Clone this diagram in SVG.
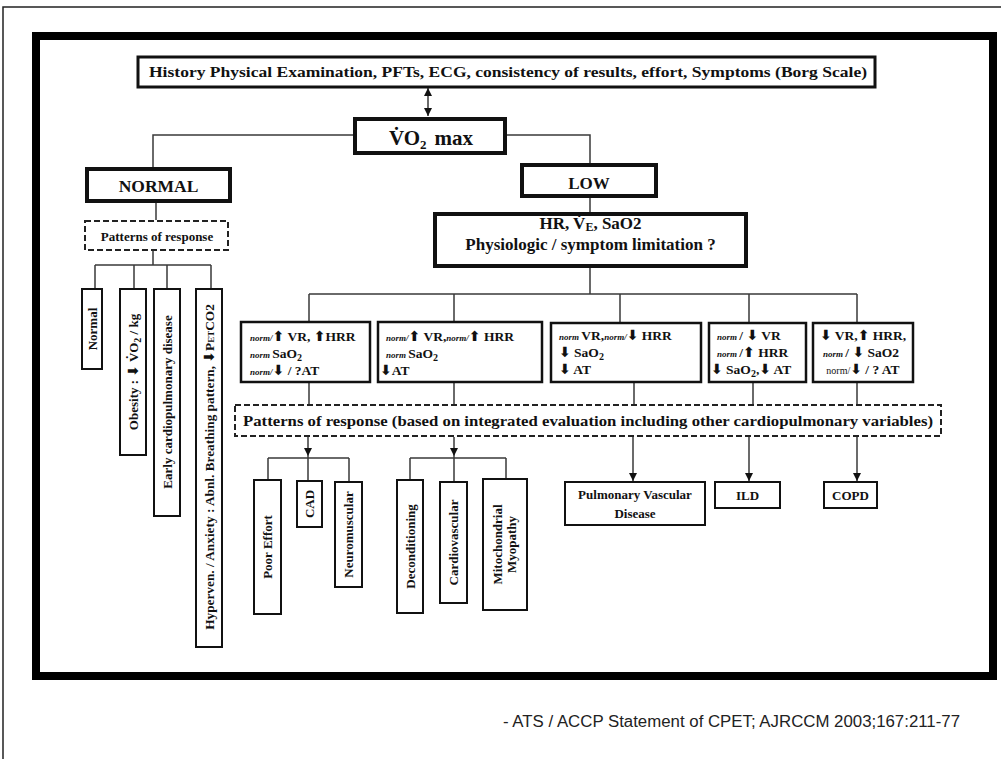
<svg xmlns="http://www.w3.org/2000/svg" width="1001" height="759" viewBox="0 0 1001 759">
<style>
.t{font-family:"Liberation Serif","Times New Roman",serif;font-weight:bold;fill:#111}
.box{fill:#fff;stroke:#111}
.b4{stroke-width:4}
.b3{stroke-width:3}
.b25{stroke-width:2.5}
.b2{stroke-width:2}
.dash{fill:#fff;stroke:#222;stroke-width:2;stroke-dasharray:6 3}
.conn path{fill:none;stroke:#3a3a3a;stroke-width:1.5}
.nm{font-style:italic;font-size:9px}
.ar{font-family:"DejaVu Sans",sans-serif;font-weight:bold;font-size:14px}
.sub{font-size:10px}
.cite{font-family:"Liberation Sans",Arial,sans-serif;fill:#222}
</style>
<defs>
<marker id="ah" viewBox="0 0 10 10" refX="10" refY="5" markerWidth="8" markerHeight="8" markerUnits="userSpaceOnUse" orient="auto-start-reverse"><path d="M0,0 L10,5 L0,10 z" fill="#111"/></marker>
</defs>
<rect width="1001" height="759" fill="#fff"/>
<!-- page frame -->
<path d="M3,759 V7 H1001" fill="none" stroke="#222" stroke-width="1.5"/>
<rect x="36" y="36" width="957" height="640" fill="none" stroke="#000" stroke-width="8"/>

<g id="connectors" class="conn">
<path d="M428,88 V116" marker-start="url(#ah)" marker-end="url(#ah)"/>
<path d="M353,135 H153 V167"/>
<path d="M507,135 H590 V163"/>
<path d="M156,203 V220"/>
<path d="M153,251 V265 M95,265 H211 M95,265 V288 M134,265 V288 M167,265 V288 M211,265 V288"/>
<path d="M590,198 V212"/>
<path d="M590,268 V294 M309,294 H857 M309,294 V321 M454,294 V321 M620,294 V322 M749,294 V322 M857,294 V322"/>
<path d="M309,383 V404 M454,383 V404 M634,382 V404 M753,383 V404 M857,383 V404"/>
<path d="M308,437 V456" marker-end="url(#ah)"/>
<path d="M268,458 H349 M268,458 V479 M308,456 V480 M349,458 V481"/>
<path d="M454,437 V456" marker-end="url(#ah)"/>
<path d="M410,458 H506 M410,458 V479 M454,456 V481 M506,458 V478"/>
<path d="M633,437 V481" marker-end="url(#ah)"/>
<path d="M749,437 V481" marker-end="url(#ah)"/>
<path d="M857,437 V481" marker-end="url(#ah)"/>
</g>

<g id="header">
<rect class="box b3" x="138" y="57" width="737" height="30"/>
<text class="t" x="149" y="77" font-size="15" textLength="718" lengthAdjust="spacingAndGlyphs">History Physical Examination, PFTs, ECG, consistency of results,  effort, Symptoms (Borg Scale)</text>
</g>

<g id="vo2max">
<rect class="box b4" x="355" y="119" width="150" height="34"/>
<text class="t" x="389" y="145" font-size="21">V̇O<tspan font-size="13" dy="4">2</tspan><tspan dy="-4" dx="8">max</tspan></text>
</g>

<g id="normal">
<rect class="box b4" x="87" y="169" width="143" height="32"/>
<text class="t" x="158.5" y="192" font-size="17.5" text-anchor="middle">NORMAL</text>
</g>

<g id="normal-patterns">
<rect class="dash" x="85" y="221" width="143" height="29"/>
<text class="t" x="157" y="241" font-size="13" text-anchor="middle">Patterns of response</text>
</g>

<g id="n-normal">
<rect class="box b2" x="82" y="289" width="20" height="80"/>
<text class="t" font-size="13" text-anchor="middle" transform="translate(92,329) rotate(-90)" y="4.5">Normal</text>
</g>
<g id="n-obesity">
<rect class="box b2" x="120" y="289" width="26" height="166"/>
<text class="t" font-size="13" text-anchor="middle" transform="translate(133,372) rotate(-90)" y="4.5">Obesity : <tspan class="ar" font-size="13">⬇</tspan> V̇O<tspan class="sub" dy="3">2</tspan><tspan dy="-3"> / kg</tspan></text>
</g>
<g id="n-early">
<rect class="box b2" x="154" y="289" width="26" height="227"/>
<text class="t" font-size="13" text-anchor="middle" transform="translate(167,402) rotate(-90)" y="4.5">Early cardiopulmonary disease</text>
</g>
<g id="n-hyperven">
<rect class="box b2" x="196" y="289" width="26" height="358"/>
<text class="t" font-size="13.3" text-anchor="middle" transform="translate(209,467) rotate(-90)" y="4.5">Hyperven. / Anxiety : Abnl. Breathing pattern, <tspan class="ar" font-size="13">⬇</tspan>P<tspan font-size="9">ET</tspan>CO2</text>
</g>

<g id="low">
<rect class="box b4" x="522" y="165" width="134" height="31"/>
<text class="t" x="589" y="189" font-size="17" text-anchor="middle">LOW</text>
</g>

<g id="limitation">
<rect class="box b4" x="435" y="214" width="311" height="52"/>
<text class="t" font-size="17" text-anchor="middle"><tspan x="590.5" y="229">HR, V̇<tspan font-size="12" dy="2">E</tspan><tspan dy="-2">, SaO2</tspan></tspan><tspan x="590.5" y="250">Physiologic / symptom limitation ?</tspan></text>
</g>

<g id="p1">
<rect class="box b25" x="241" y="322" width="129" height="60"/>
<text class="t" font-size="13.5"><tspan x="250" y="341"><tspan class="nm">norm/</tspan><tspan class="ar">⬆</tspan> VR, <tspan class="ar">⬆</tspan>HRR</tspan><tspan x="250" y="358"><tspan class="nm">norm </tspan>SaO<tspan class="sub" dy="3">2</tspan></tspan><tspan x="250" y="375"><tspan class="nm">norm/</tspan><tspan class="ar">⬇</tspan> / ?AT</tspan></text>
</g>
<g id="p2">
<rect class="box b25" x="378" y="322" width="164" height="60"/>
<text class="t" font-size="13.5"><tspan x="386" y="341"><tspan class="nm">norm/</tspan><tspan class="ar">⬆</tspan> VR,<tspan class="nm">norm/</tspan><tspan class="ar">⬆</tspan> HRR</tspan><tspan x="386" y="358"><tspan class="nm">norm </tspan>SaO<tspan class="sub" dy="3">2</tspan></tspan><tspan x="380" y="375"><tspan class="ar">⬇</tspan>AT</tspan></text>
</g>
<g id="p3">
<rect class="box b25" x="551" y="323" width="150" height="59"/>
<text class="t" font-size="13.5"><tspan x="559" y="340"><tspan class="nm">norm </tspan>VR,<tspan class="nm">norm/</tspan><tspan class="ar">⬇</tspan> HRR</tspan><tspan x="559" y="357"><tspan class="ar">⬇</tspan> SaO<tspan class="sub" dy="3">2</tspan></tspan><tspan x="559" y="374"><tspan class="ar">⬇</tspan> AT</tspan></text>
</g>
<g id="p4">
<rect class="box b25" x="709" y="323" width="97" height="59"/>
<text class="t" font-size="13.5"><tspan x="717" y="340"><tspan class="nm">norm </tspan>/ <tspan class="ar">⬇</tspan> VR</tspan><tspan x="717" y="357"><tspan class="nm">norm </tspan>/<tspan class="ar">⬆</tspan> HRR</tspan><tspan x="711" y="374"><tspan class="ar">⬇</tspan> SaO<tspan class="sub" dy="3">2</tspan><tspan dy="-3">,</tspan><tspan class="ar">⬇</tspan> AT</tspan></text>
</g>
<g id="p5">
<rect class="box b25" x="813" y="323" width="100" height="59"/>
<text class="t" font-size="13.5" text-anchor="middle"><tspan x="863" y="340"><tspan class="ar">⬇</tspan> VR,<tspan class="ar">⬆</tspan> HRR,</tspan><tspan x="861" y="357"><tspan class="nm">norm </tspan>/ <tspan class="ar">⬇</tspan> SaO2</tspan><tspan x="863" y="374"><tspan font-size="10" font-weight="normal">norm/</tspan><tspan class="ar">⬇</tspan> / ? AT</tspan></text>
</g>

<g id="integrated-patterns">
<rect class="dash" x="235" y="405" width="706" height="31"/>
<text class="t" x="243" y="426" font-size="15" textLength="690" lengthAdjust="spacingAndGlyphs">Patterns of response (based on integrated evaluation including other cardiopulmonary variables)</text>
</g>

<g id="poor-effort">
<rect class="box b2" x="254" y="480" width="27" height="134"/>
<text class="t" font-size="13" text-anchor="middle" transform="translate(267.5,547) rotate(-90)" y="4.5">Poor Effort</text>
</g>
<g id="cad">
<rect class="box b2" x="297" y="481" width="25" height="46"/>
<text class="t" font-size="13" text-anchor="middle" transform="translate(309.5,504) rotate(-90)" y="4.5">CAD</text>
</g>
<g id="neuromuscular">
<rect class="box b2" x="335" y="482" width="27" height="105"/>
<text class="t" font-size="13" text-anchor="middle" transform="translate(348.5,534.5) rotate(-90)" y="4.5">Neuromuscular</text>
</g>
<g id="deconditioning">
<rect class="box b2" x="397" y="480" width="26" height="133"/>
<text class="t" font-size="13" text-anchor="middle" transform="translate(410,546.5) rotate(-90)" y="4.5">Deconditioning</text>
</g>
<g id="cardiovascular">
<rect class="box b2" x="440" y="482" width="27" height="121"/>
<text class="t" font-size="13" text-anchor="middle" transform="translate(453.5,542.5) rotate(-90)" y="4.5">Cardiovascular</text>
</g>
<g id="mitochondrial">
<rect class="box b2" x="483" y="479" width="44" height="131"/>
<text class="t" font-size="13" text-anchor="middle" transform="translate(505,544.5) rotate(-90)"><tspan x="0" y="-3">Mitochondrial</tspan><tspan x="0" y="11">Myopathy</tspan></text>
</g>
<g id="pvd">
<rect class="box b2" x="565" y="482" width="140" height="43"/>
<text class="t" font-size="13" text-anchor="middle"><tspan x="635" y="499">Pulmonary Vascular</tspan><tspan x="635" y="518">Disease</tspan></text>
</g>
<g id="ild">
<rect class="box b2" x="715" y="482" width="65" height="26"/>
<text class="t" x="747.5" y="500" font-size="13" text-anchor="middle">ILD</text>
</g>
<g id="copd">
<rect class="box b2" x="824" y="482" width="53" height="26"/>
<text class="t" x="850.5" y="500" font-size="13" text-anchor="middle">COPD</text>
</g>

<text class="cite" x="503" y="727" font-size="16" textLength="457" lengthAdjust="spacingAndGlyphs">- ATS / ACCP Statement of CPET; AJRCCM 2003;167:211-77</text>
</svg>
